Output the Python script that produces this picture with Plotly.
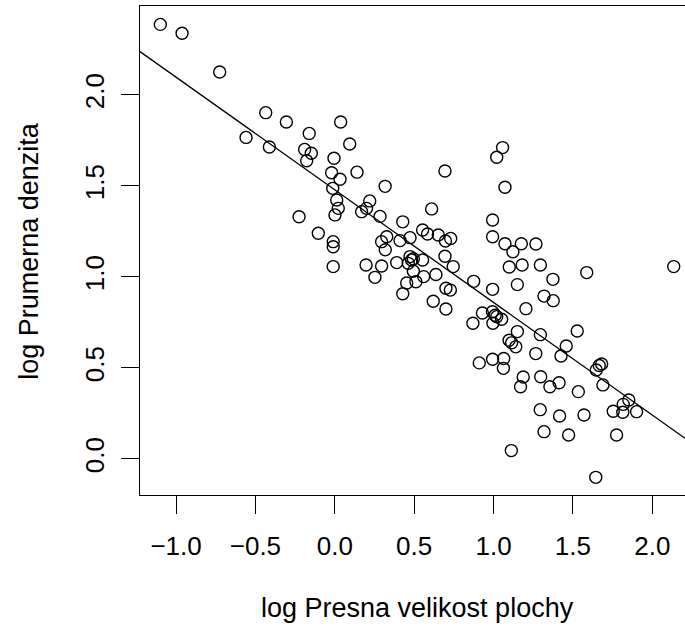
import plotly.graph_objects as go

# log area (x) and log mean density (y)
log_area = [
    -1.099, -0.962, -0.725, -0.559, -0.435, -0.412, -0.305, -0.225, -0.190, -0.161,
    -0.177, -0.148, -0.104, -0.005, -0.020, -0.013, 0.012, 0.022, 0.001, -0.010,
    -0.010, -0.010, 0.037, 0.033, 0.094, 0.140, 0.169, 0.200, 0.220, 0.197,
    0.253, 0.285, 0.295, 0.327, 0.318, 0.295, 0.317, 0.390, 0.411, 0.428,
    0.428, 0.474, 0.474, 0.484, 0.463, 0.453, 0.495, 0.511, 0.553, 0.553,
    0.584, 0.560, 0.610, 0.637, 0.620, 0.652, 0.694, 0.697, 0.730, 0.694,
    0.700, 0.728, 0.700, 0.746, 0.875, 0.870, 0.910, 0.930, 0.994, 0.994,
    0.994, 0.993, 1.020, 1.051, 0.996, 0.994, 1.020, 1.057, 1.072, 1.072,
    1.175, 1.267, 1.122, 1.099, 1.180, 1.295, 1.150, 1.587, 2.135, 1.374,
    1.318, 1.376, 1.204, 1.150, 1.098, 1.114, 1.140, 1.295, 1.527, 1.458,
    1.425, 1.266, 1.064, 1.062, 1.666, 1.681, 1.647, 1.689, 1.187, 1.170,
    1.297, 1.355, 1.413, 1.534, 1.852, 1.817, 1.754, 1.814, 1.901, 1.294,
    1.416, 1.570, 1.318, 1.473, 1.775, 1.112, 1.644, 0.495, 1.010,
]
log_density = [
    2.388, 2.339, 2.126, 1.767, 1.903, 1.714, 1.852, 1.331, 1.701, 1.789,
    1.639, 1.680, 1.240, 1.652, 1.573, 1.487, 1.423, 1.377, 1.341, 1.194,
    1.166, 1.057, 1.852, 1.537, 1.731, 1.576, 1.359, 1.377, 1.418, 1.066,
    0.998, 1.333, 1.194, 1.221, 1.150, 1.060, 1.498, 1.079, 1.200, 1.303,
    0.908, 1.216, 1.112, 1.093, 1.075, 0.967, 1.032, 0.974, 1.093, 1.258,
    1.236, 1.002, 1.374, 1.014, 0.867, 1.231, 1.582, 1.198, 1.212, 1.114,
    0.938, 0.928, 0.824, 1.057, 0.976, 0.746, 0.528, 0.802, 1.313, 1.221,
    0.932, 0.809, 0.782, 0.768, 0.746, 0.548, 1.658, 1.711, 1.493, 1.183,
    1.183, 1.181, 1.139, 1.055, 1.066, 1.066, 0.958, 1.024, 1.057, 0.987,
    0.895, 0.870, 0.826, 0.700, 0.652, 0.638, 0.616, 0.683, 0.703, 0.621,
    0.566, 0.579, 0.552, 0.498, 0.514, 0.522, 0.489, 0.407, 0.450, 0.397,
    0.452, 0.397, 0.419, 0.370, 0.324, 0.300, 0.262, 0.257, 0.260, 0.271,
    0.236, 0.242, 0.150, 0.132, 0.132, 0.046, -0.101, 1.100, 0.790,
]

# abline(lm(y ~ x))
fit_intercept = 1.479
fit_slope = -0.619

x_ticks = [-1.0, -0.5, 0.0, 0.5, 1.0, 1.5, 2.0]
y_ticks = [0.0, 0.5, 1.0, 1.5, 2.0]
x_title = "log Presna velikost plochy"
y_title = "log Prumerna denzita"

x_range = [-1.227, 2.206]
y_range = [-0.198, 2.489]

FAMILY = "Liberation Sans, Arial, sans-serif"
TICK_FONT = dict(family=FAMILY, size=26, color="black")
TITLE_FONT = dict(family=FAMILY, size=27, color="black")

fig = go.Figure()
fig.add_trace(go.Scatter(
    x=log_area, y=log_density, mode="markers",
    marker=dict(symbol="circle-open", size=12, color="black", line=dict(width=1.4)),
    showlegend=False, hoverinfo="skip",
))
fig.add_trace(go.Scatter(
    x=x_range, y=[fit_intercept + fit_slope * v for v in x_range], mode="lines",
    line=dict(color="black", width=1.3), showlegend=False, hoverinfo="skip",
))

axis_common = dict(
    showgrid=False, zeroline=False, showline=True, linecolor="black", linewidth=1.3,
    ticks="outside", ticklen=18, tickwidth=1.3, tickcolor="black",
    tickfont=TICK_FONT, tickformat=".1f", automargin=False,
)
fig.update_xaxes(axis_common, range=x_range, tickvals=x_ticks, mirror=True,
                 ticklabelstandoff=10)
fig.update_yaxes(axis_common, range=y_range, tickvals=y_ticks, tickangle=-90,
                 ticklabelstandoff=6)

fig.add_annotation(text=x_title, xref="paper", yref="paper", x=0.51, y=-0.232,
                   showarrow=False, font=TITLE_FONT, xanchor="center", yanchor="middle")
fig.add_annotation(text=y_title, xref="paper", yref="paper", x=-0.205, y=0.5,
                   textangle=-90, showarrow=False, font=TITLE_FONT,
                   xanchor="center", yanchor="middle")

fig.update_layout(
    width=685, height=630,
    margin=dict(l=140, r=0, t=6, b=135),
    plot_bgcolor="white", paper_bgcolor="white",
)

# the page's default 8px body margin would push the figure off the window
fig.write_html("out.html", config={"displayModeBar": False},
               post_script="document.body.style.margin = '0px';")
